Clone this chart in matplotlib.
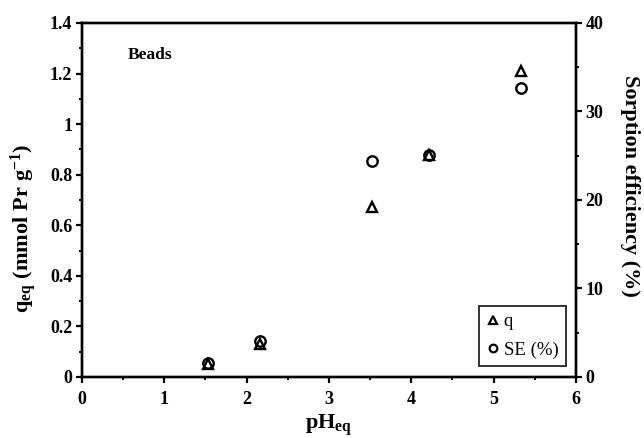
import matplotlib
matplotlib.use("Agg")
import matplotlib.pyplot as plt
from matplotlib.ticker import MultipleLocator
from matplotlib.lines import Line2D

plt.rcParams['font.family'] = ['Liberation Serif', 'DejaVu Serif']
plt.rcParams['mathtext.fontset'] = 'custom'
plt.rcParams['mathtext.rm'] = 'Liberation Serif:bold'
plt.rcParams['mathtext.bf'] = 'Liberation Serif:bold'
plt.rcParams['mathtext.it'] = 'Liberation Serif:bold'

pH = [1.53, 2.16, 3.52, 4.22, 5.33]
q = [0.051, 0.13, 0.673, 0.878, 1.21]
SE = [1.6, 4.07, 24.4, 25.1, 32.6]

fig = plt.figure(figsize=(6.44, 4.38), dpi=100)
ax = fig.add_axes([0.1273, 0.1393, 0.8944 - 0.1273, 0.9475 - 0.1393])
ax2 = ax.twinx()

ax.plot(pH, q, linestyle='none', marker='^', ms=7.5, mfc='white', mec='black', mew=1.7, zorder=3)
ax2.plot(pH, SE, linestyle='none', marker='o', ms=7.5, mfc='none', mec='black', mew=1.7, zorder=3)

ax.set_xlim(0, 6)
ax.set_ylim(0, 1.4)
ax2.set_ylim(0, 40)

ax.xaxis.set_major_locator(MultipleLocator(1))
ax.xaxis.set_minor_locator(MultipleLocator(0.5))
ax.yaxis.set_major_locator(MultipleLocator(0.2))
ax.yaxis.set_minor_locator(MultipleLocator(0.1))
ax2.yaxis.set_major_locator(MultipleLocator(10))
ax2.yaxis.set_minor_locator(MultipleLocator(5))

ax.set_yticklabels([f"{v:g}" for v in ax.get_yticks()])

for a in (ax, ax2):
    for s in a.spines.values():
        s.set_linewidth(1.7)
    a.tick_params(which='major', direction='out', length=4, width=1.6, labelsize=13, pad=3)
    a.tick_params(which='minor', direction='out', length=2.5, width=1.4)
    for lab in a.get_xticklabels() + a.get_yticklabels():
        lab.set_fontweight('bold')
ax.tick_params(axis='x', which='major', pad=6)

ax.set_xlabel(r'$\mathrm{pH}_{\mathrm{eq}}$', fontsize=16, labelpad=3)
ax.set_ylabel(r'$\mathrm{q}_{\mathrm{eq}}\ \mathrm{(mmol\ Pr\ g}^{\mathrm{-1}}\mathrm{)}$', fontsize=16, labelpad=8)
ax.yaxis.label.set_y(0.42)
ax2.set_ylabel('Sorption efficiency (%)', fontsize=16, fontweight='bold', rotation=270, labelpad=26)
ax2.yaxis.label.set_y(0.54)

ax.text(0.55, 1.273, 'Beads', fontsize=12.5, fontweight='bold', ha='left', va='center')

handles = [
    Line2D([], [], linestyle='none', marker='^', ms=5.5, mfc='white', mec='black', mew=1.6),
    Line2D([], [], linestyle='none', marker='o', ms=5.5, mfc='none', mec='black', mew=1.6),
]
leg = ax.legend(handles, ['q', 'SE (%)'], loc='lower right', bbox_to_anchor=(0.98, 0.03),
                fontsize=13.5, frameon=True, fancybox=False, edgecolor='black',
                handlelength=0.6, handletextpad=0.3, borderpad=0.4, labelspacing=0.6,
                borderaxespad=0)
leg.get_frame().set_linewidth(1.4)

fig.savefig('out.png', dpi=100)
